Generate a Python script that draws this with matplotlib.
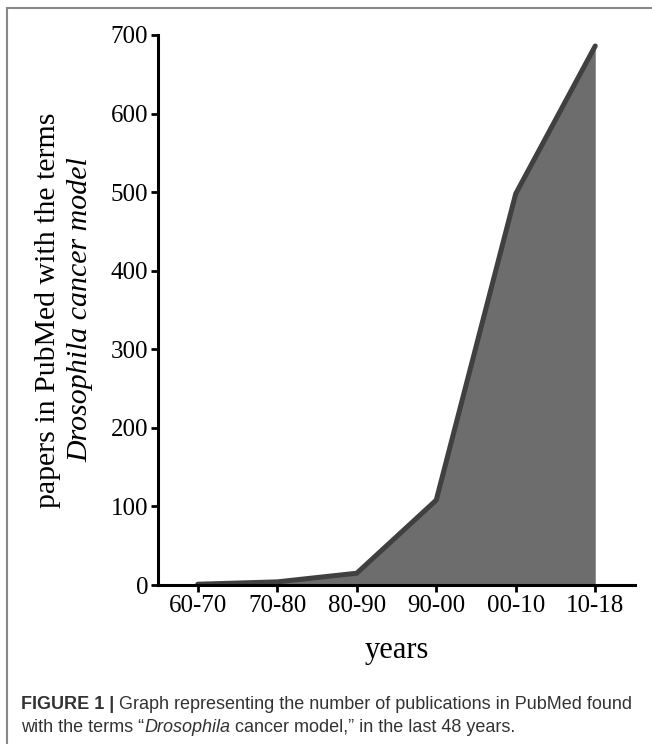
import matplotlib
matplotlib.use("Agg")
import matplotlib.pyplot as plt
from matplotlib.patches import Rectangle

periods = ["60-70", "70-80", "80-90", "90-00", "00-10", "10-18"]
papers = [1, 4, 15, 108, 498, 686]
yticks = [0, 100, 200, 300, 400, 500, 600, 700]

serif = "Liberation Serif"
sans = "Liberation Sans"

fig = plt.figure(figsize=(6.52, 7.44), dpi=100)
ax = fig.add_axes([0.2423, 0.2137, 0.7316, 0.7393])

x = list(range(len(periods)))
ax.fill_between(x, papers, 0, color="#6d6d6d", linewidth=0, zorder=1)
ax.plot(x, papers, color="#404040", lw=3.6, solid_capstyle="round",
        solid_joinstyle="miter", zorder=2)

ax.set_xlim(-0.5, 5.5)
ax.set_ylim(0, 700)
ax.set_xticks(x)
ax.set_xticklabels(periods, fontfamily=serif, fontsize=18)
ax.set_yticks(yticks)
ax.set_yticklabels([str(v) for v in yticks], fontfamily=serif, fontsize=18)
for s in ["top", "right"]:
    ax.spines[s].set_visible(False)
for s in ["left", "bottom"]:
    ax.spines[s].set_linewidth(2.2)
ax.tick_params(length=5, width=2, pad=2)
ax.set_xlabel("years", fontfamily=serif, fontsize=22, labelpad=14)

# y label, two lines, second in italics
fig.text(0.0736, 0.5833, "papers in PubMed with the terms", rotation=90,
         ha="center", va="center", fontfamily=serif, fontsize=21.5)
fig.text(0.1227, 0.5833, "Drosophila cancer model", rotation=90,
         ha="center", va="center", fontfamily=serif, fontsize=21.5, style="italic")

# caption with mixed styles
fig.canvas.draw()
r = fig.canvas.get_renderer()


def line(pieces, x0, y0):
    xp = x0
    for txt, kw in pieces:
        t = fig.text(xp, y0, txt, fontfamily=sans, fontsize=13, color="#333333",
                     va="baseline", ha="left", **kw)
        bb = t.get_window_extent(renderer=r)
        xp += bb.width / fig.bbox.width


line([("FIGURE 1 | ", dict(weight="bold")),
      ("Graph representing the number of publications in PubMed found", {})],
     21 / 652, 1 - 709 / 744)
line([("with the terms \u201c", {}),
      ("Drosophila", dict(style="italic")),
      (" cancer model,\u201d in the last 48 years.", {})],
     21 / 652, 1 - 732 / 744)

fig.patches.append(Rectangle((7 / 652, -0.02), 1.1, 1 - 8 / 744 + 0.02,
                             transform=fig.transFigure, fill=False,
                             edgecolor="#888888", lw=1.5))

fig.savefig("out.png", dpi=100)
